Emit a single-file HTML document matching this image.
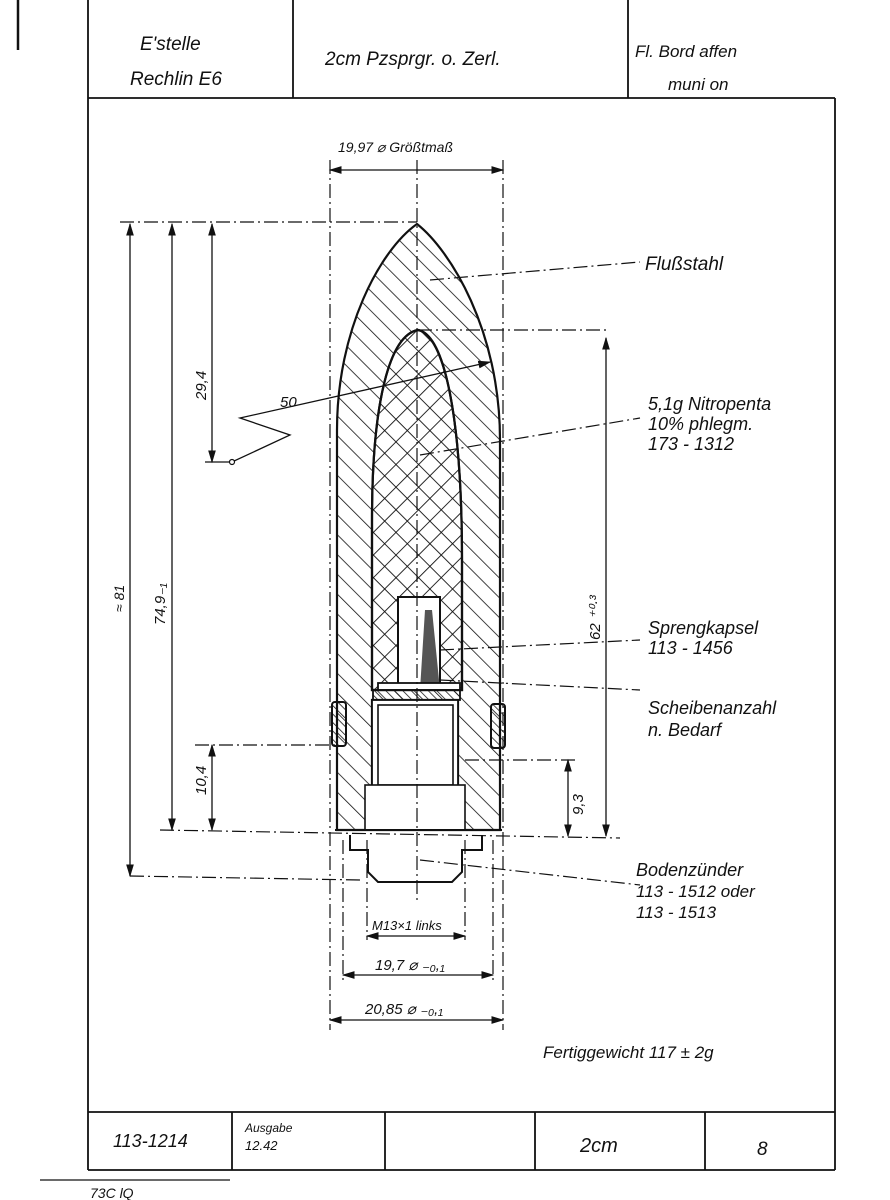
<!DOCTYPE html>
<html><head><meta charset="utf-8"><style>
html,body{margin:0;padding:0;background:#fff}
svg{display:block}
text{font-family:"Liberation Sans",sans-serif;font-style:italic;fill:#111}
</style></head><body>
<svg width="890" height="1200" viewBox="0 0 890 1200" xmlns="http://www.w3.org/2000/svg">
<defs>
<pattern id="h" width="14" height="14" patternUnits="userSpaceOnUse" patternTransform="rotate(-45)">
<line x1="0" y1="0" x2="0" y2="14" stroke="#111" stroke-width="1.6"/></pattern>
<pattern id="x" width="16" height="16" patternUnits="userSpaceOnUse" patternTransform="rotate(45)">
<line x1="0" y1="0" x2="0" y2="16" stroke="#111" stroke-width="1.8"/>
<line x1="0" y1="0" x2="16" y2="0" stroke="#111" stroke-width="1.8"/></pattern>
<pattern id="s" width="6" height="6" patternUnits="userSpaceOnUse" patternTransform="rotate(-45)">
<line x1="0" y1="0" x2="0" y2="6" stroke="#111" stroke-width="1.5"/></pattern>
<marker id="a" markerWidth="10" markerHeight="8" refX="9" refY="4" orient="auto-start-reverse"><path d="M0,1 L10,4 L0,7 Z" fill="#111"/></marker>
</defs>
<g stroke="#111" fill="none" stroke-width="1.8">
<line x1="18" y1="0" x2="18" y2="50" stroke-width="2.5"/>
<line x1="88" y1="0" x2="88" y2="1170"/>
<line x1="88" y1="98" x2="835" y2="98"/>
<line x1="293" y1="0" x2="293" y2="98"/>
<line x1="628" y1="0" x2="628" y2="98"/>
<line x1="835" y1="98" x2="835" y2="1170"/>
<line x1="88" y1="1112" x2="835" y2="1112"/>
<line x1="88" y1="1170" x2="835" y2="1170"/>
<line x1="232" y1="1112" x2="232" y2="1170"/>
<line x1="385" y1="1112" x2="385" y2="1170"/>
<line x1="535" y1="1112" x2="535" y2="1170"/>
<line x1="705" y1="1112" x2="705" y2="1170"/>
<line x1="40" y1="1180" x2="230" y2="1180" stroke-width="1.2"/>
<path d="M337,830 L337,430 C337,330 380,250 417,224 C450,250 500,330 500,440 L500,830 Z M372,690 L462,690 L462,560 C462,420 445,335 418,330 C390,335 372,400 372,520 Z M372,700 L372,830 L458,830 L458,700 Z" fill="url(#h)" fill-rule="evenodd" stroke-width="2.2"/>
<path d="M372,690 L372,520 C372,400 390,335 418,330 C445,335 462,420 462,560 L462,690 Z" fill="url(#x)" stroke-width="2.2"/>
<rect x="398" y="597" width="42" height="92" fill="#fff" stroke-width="2"/>
<path d="M425,610 L420,690 L440,690 L432,610 Z" fill="#555" stroke="none"/>
<rect x="378" y="683" width="82" height="7" fill="#fff"/>
<rect x="373" y="690" width="87" height="10" fill="url(#s)"/>
<rect x="372" y="700" width="86" height="130" fill="#fff"/>
<rect x="378" y="705" width="75" height="80" fill="#fff" stroke-width="1.6"/>
<rect x="365" y="785" width="100" height="45" fill="#fff" stroke-width="1.6"/>
<rect x="332" y="702" width="14" height="44" rx="3" fill="url(#s)" stroke-width="2"/>
<rect x="491" y="704" width="14" height="44" rx="3" fill="url(#s)" stroke-width="2"/>
<line x1="335" y1="830" x2="502" y2="830" stroke-width="2"/>
<path d="M350,835 L350,850 L368,850 L368,872 L378,882 L452,882 L462,872 L462,850 L482,850 L482,835" stroke-width="2"/>
<g stroke-width="1.2" stroke-dasharray="14,4,2,4">
<line x1="417" y1="160" x2="417" y2="900"/>
<line x1="120" y1="222" x2="417" y2="222"/>
<line x1="418" y1="330" x2="610" y2="330"/>
<line x1="330" y1="160" x2="330" y2="1030"/>
<line x1="503" y1="160" x2="503" y2="1030"/>
<line x1="367" y1="840" x2="367" y2="940"/>
<line x1="465" y1="840" x2="465" y2="940"/>
<line x1="343" y1="840" x2="343" y2="980"/>
<line x1="493" y1="840" x2="493" y2="980"/>
<line x1="430" y1="280" x2="640" y2="262"/>
<line x1="420" y1="455" x2="640" y2="418"/>
<line x1="440" y1="650" x2="640" y2="640"/>
<line x1="440" y1="680" x2="640" y2="690"/>
<line x1="420" y1="860" x2="640" y2="885"/>
<line x1="130" y1="876" x2="360" y2="880"/>
<line x1="195" y1="745" x2="335" y2="745"/>
<line x1="465" y1="760" x2="575" y2="760"/>
<line x1="160" y1="830" x2="620" y2="838"/>
</g>
<line x1="330" y1="170" x2="503" y2="170" marker-start="url(#a)" marker-end="url(#a)" stroke-width="1.3"/>
<line x1="367" y1="936" x2="465" y2="936" marker-start="url(#a)" marker-end="url(#a)" stroke-width="1.3"/>
<line x1="343" y1="975" x2="493" y2="975" marker-start="url(#a)" marker-end="url(#a)" stroke-width="1.3"/>
<line x1="330" y1="1020" x2="503" y2="1020" marker-start="url(#a)" marker-end="url(#a)" stroke-width="1.3"/>
<line x1="130" y1="224" x2="130" y2="876" marker-start="url(#a)" marker-end="url(#a)" stroke-width="1.3"/>
<line x1="172" y1="224" x2="172" y2="830" marker-start="url(#a)" marker-end="url(#a)" stroke-width="1.3"/>
<line x1="212" y1="224" x2="212" y2="462" marker-start="url(#a)" marker-end="url(#a)" stroke-width="1.3"/>
<line x1="212" y1="745" x2="212" y2="830" marker-start="url(#a)" marker-end="url(#a)" stroke-width="1.3"/>
<line x1="606" y1="338" x2="606" y2="836" marker-start="url(#a)" marker-end="url(#a)" stroke-width="1.3"/>
<line x1="568" y1="760" x2="568" y2="836" marker-start="url(#a)" marker-end="url(#a)" stroke-width="1.3"/>
<path d="M205,462 L232,462 L290,435 L240,418 L490,362" stroke-width="1.3" marker-end="url(#a)"/>
<circle cx="232" cy="462" r="2.5" fill="#fff" stroke-width="1.2"/>
</g>
<g font-size="19">
<text x="140" y="50">E'stelle</text>
<text x="130" y="85">Rechlin E6</text>
<text x="325" y="65">2cm Pzsprgr. o. Zerl.</text>
<text x="635" y="57" font-size="17">Fl. Bord affen</text>
<text x="668" y="90" font-size="17">muni on</text>
<text x="645" y="270">Flußstahl</text>
<text x="648" y="410" font-size="18">5,1g Nitropenta</text>
<text x="648" y="430" font-size="18">10% phlegm.</text>
<text x="648" y="450" font-size="18">173 - 1312</text>
<text x="648" y="634" font-size="18">Sprengkapsel</text>
<text x="648" y="654" font-size="18">113 - 1456</text>
<text x="648" y="714" font-size="18">Scheibenanzahl</text>
<text x="648" y="736" font-size="18">n. Bedarf</text>
<text x="636" y="876" font-size="18">Bodenzünder</text>
<text x="636" y="897" font-size="17">113 - 1512  oder</text>
<text x="636" y="918" font-size="17">113 - 1513</text>
<text x="543" y="1058" font-size="17">Fertiggewicht  117 ± 2g</text>
<text x="338" y="152" font-size="14">19,97 ⌀ Größtmaß</text>
<text x="372" y="930" font-size="13">M13×1 links</text>
<text x="375" y="970" font-size="15">19,7 ⌀ ₋₀,₁</text>
<text x="365" y="1014" font-size="15">20,85 ⌀ ₋₀,₁</text>
<text x="280" y="407" font-size="15" font-style="normal">50</text>
<text transform="translate(206,400) rotate(-90)" font-size="15">29,4</text>
<text transform="translate(206,795) rotate(-90)" font-size="15">10,4</text>
<text transform="translate(165,625) rotate(-90)" font-size="15">74,9₋₁</text>
<text transform="translate(124,612) rotate(-90)" font-size="14">≈ 81</text>
<text transform="translate(600,640) rotate(-90)" font-size="15">62 ⁺⁰·³</text>
<text transform="translate(583,815) rotate(-90)" font-size="15">9,3</text>
<text x="113" y="1147" font-size="18">113-1214</text>
<text x="245" y="1132" font-size="12">Ausgabe</text>
<text x="245" y="1150" font-size="13">12.42</text>
<text x="580" y="1152" font-size="20">2cm</text>
<text x="757" y="1155" font-size="19" font-style="normal">8</text>
<text x="90" y="1198" font-size="14">73C lQ</text>
</g>
</svg>
</body></html>
